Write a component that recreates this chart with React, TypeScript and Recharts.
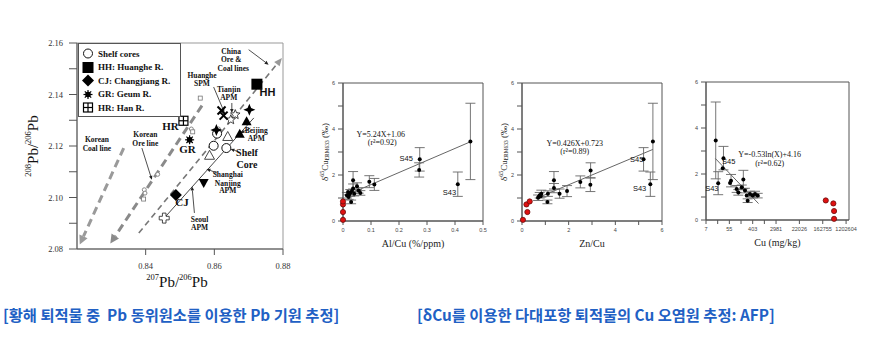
import { ScatterChart, Scatter, XAxis, YAxis, ReferenceLine, ReferenceArea, ErrorBar, Label } from 'recharts';

const SERIF = '"Liberation Serif", "Times New Roman", serif';
const SANS = '"Liberation Sans", Arial, sans-serif';
const AXIS = '#555';
const CAPTION = '#2160c4';

// ---- 왼쪽 그림: 207Pb/206Pb vs 208Pb/206Pb ----
const pbXTicks = [0.84, 0.86, 0.88];
const pbYTicks = [2.08, 2.09, 2.1, 2.11, 2.12, 2.13, 2.14, 2.15, 2.16];

const shelfCores = [[0.8608, 2.1248], [0.8598, 2.1201], [0.8635, 2.1192]];
const shelfSmall = [[0.8396, 2.103], [0.8398, 2.1017], [0.8435, 2.109], [0.8612, 2.1266], [0.8533, 2.1266]];
const shelfTinySq = [[0.8559, 2.1386], [0.8394, 2.0994], [0.8537, 2.1255]];
const huangheR = [[0.8724, 2.144]];
const changjiangR = [[0.8488, 2.101]];
const geumR = [[0.8528, 2.1224]];
const hanR = [[0.851, 2.1298]];
const huangheSpm = [[0.8621, 2.1338], [0.8627, 2.1318]];
const tianjinApm = [[0.8661, 2.1322], [0.8648, 2.1302]];
const blackStars = [[0.8702, 2.1341], [0.8606, 2.1262]];
const beijingApm = [[0.8694, 2.1296], [0.8674, 2.1248]];
const shanghaiApm = [[0.8569, 2.1056]];
const openTris = [[0.8639, 2.1237], [0.8586, 2.1164]];
const seoulApm = [[0.8454, 2.092]];

const koreanCoalLine = [[0.8336, 2.1192], [0.8208, 2.0817]];
const koreanOreLine = [[0.8564, 2.1357], [0.8297, 2.0821]];
const chinaLine = [[0.838, 2.0862], [0.8797, 2.1542]];
const apmLine = [[0.8452, 2.0917], [0.8715, 2.1309]];

const pointers = [
  [[0.87, 2.1574], [0.8758, 2.1516]],
  [[0.8598, 2.1429], [0.8629, 2.1331]],
  [[0.8651, 2.1367], [0.8651, 2.1328]],
  [[0.8705, 2.127], [0.8676, 2.125]],
  [[0.8668, 2.1179], [0.8647, 2.1188]],
  [[0.8608, 2.1095], [0.8577, 2.1111]],
  [[0.8542, 2.094], [0.8535, 2.1043]],
  [[0.8389, 2.1192], [0.8418, 2.1069]],
];

const pbNotes = [
  ['China', 0.8649, 2.1566], ['Ore &', 0.8649, 2.1535], ['Coal lines', 0.8655, 2.15],
  ['Huanghe', 0.8564, 2.1473], ['SPM', 0.8564, 2.1442],
  ['Tianjin', 0.8642, 2.1419], ['APM', 0.8642, 2.1388],
  ['Beijing', 0.8722, 2.1261], ['APM', 0.8722, 2.1228],
  ['Shanghai', 0.8639, 2.1089], ['Nanjing', 0.8639, 2.1056], ['APM', 0.8639, 2.1026],
  ['Seoul', 0.8557, 2.0914], ['APM', 0.8557, 2.0883],
  ['Korean', 0.8399, 2.1244], ['Ore line', 0.8399, 2.1209],
  ['Korean', 0.8258, 2.1224], ['Coal line', 0.8258, 2.1192],
];
const shelfNote = [['Shelf', 0.8695, 2.1173], ['Core', 0.8695, 2.1129]];
const codeNotes = [['HR', 0.8472, 2.1279], ['GR', 0.8522, 2.1188], ['CJ', 0.8506, 2.0981]];
const hhNote = [['HH', 0.8755, 2.1408]];

const legendItems = [
  ['circle', 'Shelf cores'],
  ['square', 'HH: Huanghe R.'],
  ['diamond', 'CJ: Changjiang R.'],
  ['burst', 'GR: Geum R.'],
  ['han', 'HR: Han R.'],
];

// ---- 오른쪽 그림: δ65Cu vs Al/Cu, Zn/Cu, Cu ----
const deltaYTicks = [0, 1, 2, 3, 4, 5, 6];
const refDelta = [0.05, 0.39, 0.72, 0.85];

const alCu = [0.455, 0.41, 0.274, 0.272, 0.112, 0.094, 0.036, 0.036, 0.05, 0.056, 0.062, 0.04, 0.026, 0.014, 0.02, 0.029, 0.018, 0.022, 0.032];
const deltaAl = [3.46, 1.6, 2.68, 2.22, 1.59, 1.71, 1.77, 1.41, 1.51, 1.33, 1.22, 1.19, 1.22, 1.12, 1.04, 0.83, 1.26, 1.15, 1.3];
const errAl = [1.66, 0.53, 0.51, 0.31, 0.26, 0.26, 0.38, 0.2, 0.15, 0.12, 0.1, 0.1, 0.15, 0.12, 0.1, 0.08, null, null, null];
const refAlCu = [0, 0, 0, 0];

const znCu = [5.61, 5.5, 5.21, 2.94, 2.93, 2.5, 1.93, 1.61, 1.37, 1.37, 1.11, 1.09, 0.83, 0.76, 0.69, 0.8, 0.72];
const deltaZn = [3.46, 1.6, 2.68, 2.2, 1.58, 1.7, 1.3, 1.19, 1.77, 1.43, 1.19, 0.83, 1.19, 1.12, 1.01, 1.08, 1.05];
const errZn = [1.66, 0.53, 0.51, 0.33, 0.3, 0.26, 0.24, 0.2, 0.38, 0.2, 0.12, 0.08, 0.15, 0.12, 0.12, null, null];
const refZnCu = [0.04, 0.23, 0.19, 0.33];

const cuMgKg = [17, 21, 33, 31, 58, 63, 181, 102, 118, 158, 208, 242, 262, 320, 403, 493, 620];
const deltaCu = [3.46, 1.6, 2.69, 2.25, 1.61, 1.71, 1.76, 1.35, 1.2, 1.42, 1.28, 1.06, 0.84, 1.13, 1.06, 1.13, 1.06];
const errCu = [1.67, 0.5, 0.51, null, null, 0.27, 0.4, 0.15, 0.12, 0.1, 0.1, null, 0.08, 0.12, 0.1, 0.12, 0.1];
const refCuMgKg = [430000, 430000, 404000, 211000];

const pairs = (arr: number[][]) => arr.map(([x, y]) => ({ x, y }));
const noteRows = (arr: any[]) => arr.map(([text, x, y]) => ({ x, y, text }));

const Marker = ({ cx, cy, kind }: { cx: number; cy: number; kind: string }) => {
  switch (kind) {
    case 'circle':
      return <circle cx={cx} cy={cy} r={4.5} fill="#fff" stroke="#111" strokeWidth={1} />;
    case 'dot':
      return <circle cx={cx} cy={cy} r={2} fill="#fff" stroke="#888" strokeWidth={1} />;
    case 'tinySquare':
      return <rect x={cx - 2} y={cy - 2} width={4} height={4} fill="#fff" stroke="#777" strokeWidth={0.8} />;
    case 'square':
      return <rect x={cx - 5.5} y={cy - 5.5} width={11} height={11} fill="#000" />;
    case 'diamond':
      return <polygon points={`${cx},${cy - 6} ${cx + 6},${cy} ${cx},${cy + 6} ${cx - 6},${cy}`} fill="#000" />;
    case 'burst':
      return (
        <g stroke="#000" strokeWidth={1.2}>
          {[0, 45, 90, 135].map((a) => {
            const dx = 4.5 * Math.cos((a * Math.PI) / 180);
            const dy = 4.5 * Math.sin((a * Math.PI) / 180);
            return <line key={a} x1={cx - dx} y1={cy - dy} x2={cx + dx} y2={cy + dy} />;
          })}
          <circle cx={cx} cy={cy} r={2.2} fill="#000" />
        </g>
      );
    case 'han':
      return (
        <g fill="#fff" stroke="#000" strokeWidth={1.2}>
          <rect x={cx - 4.5} y={cy - 4.5} width={9} height={9} />
          <line x1={cx} y1={cy - 4.5} x2={cx} y2={cy + 4.5} />
          <line x1={cx - 4.5} y1={cy} x2={cx + 4.5} y2={cy} />
        </g>
      );
    case 'xmark':
      return (
        <g stroke="#000" strokeWidth={2}>
          <line x1={cx - 4} y1={cy - 4} x2={cx + 4} y2={cy + 4} />
          <line x1={cx - 4} y1={cy + 4} x2={cx + 4} y2={cy - 4} />
        </g>
      );
    case 'star4': {
      const s = 6, t = 1.8;
      return <polygon fill="#000" points={`${cx},${cy - s} ${cx + t},${cy - t} ${cx + s},${cy} ${cx + t},${cy + t} ${cx},${cy + s} ${cx - t},${cy + t} ${cx - s},${cy} ${cx - t},${cy - t}`} />;
    }
    case 'openStar': {
      const pts = [];
      for (let i = 0; i < 10; i++) {
        const r = i % 2 === 0 ? 5 : 2.2;
        const a = -Math.PI / 2 + (i * Math.PI) / 5;
        pts.push(`${cx + r * Math.cos(a)},${cy + r * Math.sin(a)}`);
      }
      return <polygon points={pts.join(' ')} fill="#fff" stroke="#333" strokeWidth={0.9} />;
    }
    case 'tri':
      return <polygon points={`${cx},${cy - 5} ${cx + 5},${cy + 4} ${cx - 5},${cy + 4}`} fill="#000" />;
    case 'triDown':
      return <polygon points={`${cx - 5},${cy - 4} ${cx + 5},${cy - 4} ${cx},${cy + 5}`} fill="#000" />;
    case 'openTri':
      return <polygon points={`${cx},${cy - 5} ${cx + 5},${cy + 4} ${cx - 5},${cy + 4}`} fill="#fff" stroke="#333" strokeWidth={0.9} />;
    case 'openCross': {
      const a = 5, b = 1.8;
      return <polygon fill="#fff" stroke="#333" strokeWidth={0.9} points={`${cx - b},${cy - a} ${cx + b},${cy - a} ${cx + b},${cy - b} ${cx + a},${cy - b} ${cx + a},${cy + b} ${cx + b},${cy + b} ${cx + b},${cy + a} ${cx - b},${cy + a} ${cx - b},${cy + b} ${cx - a},${cy + b} ${cx - a},${cy - b} ${cx - b},${cy - b}`} />;
    }
    default:
      return null;
  }
};

const markerShape = (kind: string) => (p: any) => <Marker cx={p.cx} cy={p.cy} kind={kind} />;

const textShape = (size: number, family: string, weight: number | string = 700) => (p: any) => (
  <text x={p.cx} y={p.cy} textAnchor="middle" dominantBaseline="central" fontSize={size} fontFamily={family} fontWeight={weight} fill="#111">
    {p.payload.text}
  </text>
);

// line with an arrowhead at its end point
const arrowLine = (stroke: string, width: number, dash: string | undefined, headLen: number, headW: number, headFill: string) => (p: any) => {
  const { x1, y1, x2, y2 } = p;
  const ang = Math.atan2(y2 - y1, x2 - x1);
  const bx = x2 - headLen * Math.cos(ang);
  const by = y2 - headLen * Math.sin(ang);
  const nx = (-Math.sin(ang) * headW) / 2;
  const ny = (Math.cos(ang) * headW) / 2;
  return (
    <g>
      <line x1={x1} y1={y1} x2={bx} y2={by} stroke={stroke} strokeWidth={width} strokeDasharray={dash} />
      <polygon points={`${x2},${y2} ${bx + nx},${by + ny} ${bx - nx},${by - ny}`} fill={headFill} />
    </g>
  );
};

const seg = (s: number[][]) => [{ x: s[0][0], y: s[0][1] }, { x: s[1][0], y: s[1][1] }];

const PbTitle = ({ x, y, rotate }: { x: number; y: number; rotate?: boolean }) => (
  <text transform={`translate(${x},${y})${rotate ? ' rotate(-90)' : ''}`} textAnchor="middle" dominantBaseline="central" fontFamily={SERIF} fontSize={15} fill="#111">
    <tspan fontSize={8.5} dy={-5}>{rotate ? '208' : '207'}</tspan>
    <tspan dy={5}>Pb/</tspan>
    <tspan fontSize={8.5} dy={-5}>206</tspan>
    <tspan dy={5}>Pb</tspan>
  </text>
);

const PbChart = () => {
  const tickStyle = { fontSize: 8.5, fontFamily: SERIF, fill: '#333' };
  const series: [number[][], string][] = [
    [shelfSmall, 'dot'],
    [shelfTinySq, 'tinySquare'],
    [shelfCores, 'circle'],
    [openTris, 'openTri'],
    [seoulApm, 'openCross'],
    [tianjinApm, 'openStar'],
    [huangheSpm, 'xmark'],
    [blackStars, 'star4'],
    [beijingApm, 'tri'],
    [shanghaiApm, 'triDown'],
    [huangheR, 'square'],
    [changjiangR, 'diamond'],
    [geumR, 'burst'],
    [hanR, 'han'],
  ];
  return (
    <ScatterChart width={300} height={295} margin={{ top: 43, right: 17, bottom: 6, left: 0 }}>
      <XAxis type="number" dataKey="x" domain={[0.82, 0.88]} ticks={pbXTicks}
        tickFormatter={(v: number) => v.toFixed(2)} height={40} tickSize={6} tickMargin={8} stroke={AXIS} tick={tickStyle}>
        <Label content={() => <PbTitle x={177} y={282} />} />
      </XAxis>
      <YAxis type="number" dataKey="y" domain={[2.08, 2.16]} ticks={pbYTicks}
        tickFormatter={(v: number) => (Math.round(v * 100) % 2 === 0 ? v.toFixed(2) : '')} width={77} tickSize={8} tickMargin={6} stroke={AXIS} tick={tickStyle}>
        <Label content={() => <PbTitle x={33} y={146} rotate />} />
      </YAxis>
      <ReferenceArea x1={0.82} x2={0.88} y1={2.08} y2={2.16} fill="none" stroke="#999" strokeWidth={1} />
      <ReferenceLine segment={seg(koreanCoalLine)} shape={arrowLine('#9a9a9a', 3, '8 5', 9, 9, '#9a9a9a')} />
      <ReferenceLine segment={seg(koreanOreLine)} shape={arrowLine('#8a8a8a', 3, '8 5', 9, 9, '#8a8a8a')} />
      <ReferenceLine segment={seg(chinaLine)} shape={arrowLine('#777', 1.6, '6 4', 8, 7, '#999')} />
      <ReferenceLine segment={seg(apmLine)} stroke="#333" strokeWidth={0.9} />
      {pointers.map((s, i) => (
        <ReferenceLine key={`ptr-${i}`} segment={seg(s)} shape={arrowLine('#222', 0.8, undefined, 4, 3.5, '#222')} />
      ))}
      {series.map(([pts, kind]) => (
        <Scatter key={kind} data={pairs(pts)} shape={markerShape(kind)} isAnimationActive={false} />
      ))}
      <Scatter data={noteRows(pbNotes)} shape={textShape(7.5, SERIF)} isAnimationActive={false} />
      <Scatter data={noteRows(shelfNote)} shape={textShape(10, SERIF)} isAnimationActive={false} />
      <Scatter data={noteRows(codeNotes)} shape={textShape(11, SERIF)} isAnimationActive={false} />
      <Scatter data={noteRows(hhNote)} shape={textShape(11, SANS)} isAnimationActive={false} />
    </ScatterChart>
  );
};

const PbLegend = () => (
  <div style={{ position: 'absolute', left: 78, top: 43, width: 103, height: 74, border: '1px solid #555', background: '#fff', boxSizing: 'border-box' }}>
    {legendItems.map(([kind, text], i) => (
      <div key={kind} style={{ position: 'absolute', left: 2, top: 3 + i * 13.6, height: 13, display: 'flex', alignItems: 'center' }}>
        <svg width={14} height={13}>
          <Marker cx={7} cy={6.5} kind={kind} />
        </svg>
        <span style={{ marginLeft: 3, fontFamily: SERIF, fontWeight: 700, fontSize: 9, color: '#111', whiteSpace: 'nowrap' }}>{text}</span>
      </div>
    ))}
  </div>
);

const DeltaTitle = ({ x, y }: { x: number; y: number }) => (
  <text transform={`translate(${x},${y}) rotate(-90)`} textAnchor="middle" dominantBaseline="central" fontFamily={SERIF} fontSize={9} fill="#222">
    δ<tspan fontSize={6} dy={-3}>65</tspan>
    <tspan dy={3}>Cu</tspan>
    <tspan fontSize={5.5} dy={2}>ERM633</tspan>
    <tspan dy={-2}> (‰)</tspan>
  </text>
);

type PanelProps = {
  width: number;
  yAxisWidth: number;
  right: number;
  top: number;
  xDomain: number[];
  xTicks: number[];
  xFmt: (v: number) => string;
  xs: number[];
  ys: number[];
  errs: (number | null)[];
  refX: number[];
  refY: number[];
  fit: number[][];
  equation: [string, number, number][];
  samples: [string, number, number][];
  xTitle: string;
  yTitle?: number;
};

const PLOT_H = 138;

const DeltaPanel = (p: PanelProps) => {
  const rows = p.xs.map((x, i) => ({ x, y: p.ys[i], err: p.errs[i] == null ? null : [p.errs[i], p.errs[i]] }));
  const withErr = rows.filter((r) => r.err);
  const noErr = rows.filter((r) => !r.err);
  const refs = p.refX.map((x, i) => ({ x, y: p.refY[i] }));
  const tickStyle = { fontSize: 5.5, fontFamily: SANS, fill: '#444' };
  const plotCenter = p.yAxisWidth + (p.width - p.yAxisWidth - p.right) / 2;
  const dot = (s: any) => <circle cx={s.cx} cy={s.cy} r={2} fill="#000" />;
  return (
    <ScatterChart width={p.width} height={200} margin={{ top: p.top, right: p.right, bottom: 200 - p.top - PLOT_H - 20, left: 0 }}>
      <XAxis type="number" dataKey="x" domain={p.xDomain} ticks={p.xTicks} tickFormatter={p.xFmt}
        height={20} tickSize={4} tickMargin={3} stroke={AXIS} tick={tickStyle}>
        <Label content={() => (
          <text x={plotCenter} y={p.top + PLOT_H + 22} textAnchor="middle" dominantBaseline="central" fontFamily={SERIF} fontSize={10} fill="#222">{p.xTitle}</text>
        )} />
      </XAxis>
      <YAxis type="number" dataKey="y" domain={[0, 6]} ticks={deltaYTicks}
        tickFormatter={(v: number) => (v % 2 === 0 ? String(v) : '')} width={p.yAxisWidth} tickSize={5} tickMargin={3} stroke={AXIS} tick={tickStyle}>
        {p.yTitle !== undefined && <Label content={() => <DeltaTitle x={p.yTitle as number} y={p.top + PLOT_H / 2} />} />}
      </YAxis>
      <ReferenceArea x1={p.xDomain[0]} x2={p.xDomain[1]} y1={0} y2={6} fill="none" stroke={AXIS} strokeWidth={1} />
      <ReferenceLine segment={seg(p.fit)} stroke="#555" strokeWidth={0.9} />
      <Scatter data={withErr} isAnimationActive={false} shape={dot}>
        <ErrorBar dataKey="err" direction="y" width={5} stroke="#666" strokeWidth={0.9} />
      </Scatter>
      <Scatter data={noErr} isAnimationActive={false} shape={dot} />
      <Scatter data={refs} isAnimationActive={false}
        shape={(s: any) => <circle cx={s.cx} cy={s.cy} r={2.6} fill="#e01010" stroke="#6a1010" strokeWidth={0.8} />} />
      <Scatter data={noteRows(p.equation)} shape={textShape(8, SERIF, 400)} isAnimationActive={false} />
      <Scatter data={noteRows(p.samples)} shape={textShape(7.5, SANS, 400)} isAnimationActive={false} />
    </ScatterChart>
  );
};

const oddBlank = (v: number) => (Math.round(v) % 2 === 0 ? String(v) : '');

const captionStyle = {
  position: 'absolute' as const,
  top: 303,
  fontFamily: '"Noto Sans CJK KR", sans-serif',
  fontWeight: 700,
  fontSize: 15.3,
  lineHeight: '22px',
  color: CAPTION,
  whiteSpace: 'pre' as const,
};

export default function App() {
  return (
    <div style={{ position: 'fixed', left: 0, top: 0, width: 870, height: 356, background: '#fff', overflow: 'hidden' }}>
      <div style={{ position: 'absolute', left: 0, top: 0 }}>
        <PbChart />
      </div>
      <PbLegend />

      <div style={{ position: 'absolute', left: 300, top: 60 }}>
        <DeltaPanel width={200} yAxisWidth={43} right={17} top={23}
          xDomain={[0, 0.5]} xTicks={[0, 0.1, 0.2, 0.3, 0.4, 0.5]} xFmt={(v) => String(v)}
          xs={alCu} ys={deltaAl} errs={errAl} refX={refAlCu} refY={refDelta}
          fit={[[0.02, 5.24 * 0.02 + 1.06], [0.455, 5.24 * 0.455 + 1.06]]}
          equation={[['Y=5.24X+1.06', 0.135, 3.77], ['(r²=0.92)', 0.14, 3.42]]}
          samples={[['S45', 0.226, 2.73], ['S43', 0.38, 1.25]]}
          xTitle="Al/Cu (%/ppm)" yTitle={25} />
      </div>

      <div style={{ position: 'absolute', left: 490, top: 60 }}>
        <DeltaPanel width={200} yAxisWidth={32} right={28} top={23}
          xDomain={[0, 6]} xTicks={[0, 1, 2, 3, 4, 5, 6]} xFmt={oddBlank}
          xs={znCu} ys={deltaZn} errs={errZn} refX={refZnCu} refY={refDelta}
          fit={[[0.6, 0.426 * 0.6 + 0.723], [5.61, 0.426 * 5.61 + 0.723]]}
          equation={[['Y=0.426X+0.723', 2.26, 3.38], ['(r²=0.89)', 2.26, 3.03]]}
          samples={[['S45', 4.92, 2.68], ['S43', 5.04, 1.42]]}
          xTitle="Zn/Cu" yTitle={14} />
      </div>

      <div style={{ position: 'absolute', left: 680, top: 60 }}>
        <DeltaPanel width={190} yAxisWidth={26} right={21} top={22}
          xDomain={[2, 14.25]} xTicks={[2, 3, 4, 5, 6, 7, 8, 9, 10, 11, 12, 13, 14]}
          xFmt={(v) => (Math.round(v) % 2 === 0 ? String(Math.round(Math.exp(v))) : '')}
          xs={cuMgKg.map((c) => Math.log(c))} ys={deltaCu} errs={errCu}
          refX={refCuMgKg.map((c) => Math.log(c))} refY={refDelta}
          fit={[[2.8, -0.53 * 2.8 + 4.16], [6.5, -0.53 * 6.5 + 4.16]]}
          equation={[['Y=-0.53ln(X)+4.16', 7.45, 2.85], ['(r²=0.62)', 7.45, 2.45]]}
          samples={[['S45', 3.95, 2.55], ['S43', 2.5, 1.36]]}
          xTitle="Cu (mg/kg)" />
      </div>

      <div style={{ ...captionStyle, left: 3 }}>[황해 퇴적물 중  Pb 동위원소를 이용한 Pb 기원 추정]</div>
      <div style={{ ...captionStyle, left: 417 }}>[δCu를 이용한 다대포항 퇴적물의 Cu 오염원 추정: AFP]</div>
    </div>
  );
}
